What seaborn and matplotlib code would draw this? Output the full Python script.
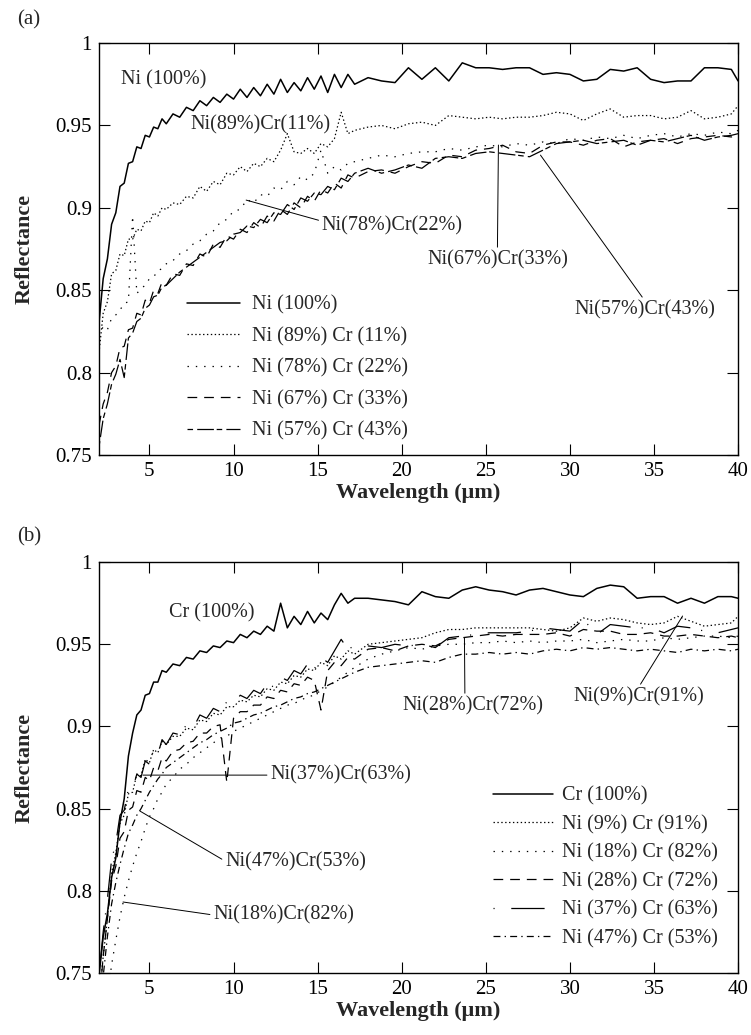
import matplotlib
matplotlib.use("Agg")
import matplotlib.pyplot as plt
import seaborn as sns

# ---------------- data ----------------
wavelength = [
    2.0, 2.25, 2.5, 2.75, 3.0, 3.25, 3.5, 3.75, 4.0, 4.25, 4.5, 4.75, 5.0, 5.25, 5.5, 5.75, 6.0,
    6.4, 6.8, 7.2, 7.6, 8.0, 8.4, 8.8, 9.2, 9.6, 10.0, 10.4, 10.8, 11.2, 11.6, 12.0, 12.4, 12.8, 13.2,
    13.6, 14.0, 14.4, 14.8, 15.2, 15.6, 16.0, 16.4, 16.8, 17.2,
    18.0, 18.8, 19.6, 20.4, 21.2, 22.0, 22.8, 23.6, 24.4, 25.2, 26.0, 26.8, 27.6, 28.4, 29.2, 30.0,
    30.8, 31.6, 32.4, 33.2, 34.0, 34.8, 35.6, 36.4, 37.2, 38.0, 38.8, 39.6, 40.0,
]

# panel (a)
ni100 = [
    0.830, 0.857, 0.869, 0.890, 0.897, 0.913, 0.915, 0.927, 0.928, 0.937, 0.936, 0.944, 0.943, 0.949, 0.948, 0.954, 0.951,
    0.957, 0.955, 0.961, 0.959, 0.965, 0.962, 0.967, 0.964, 0.969, 0.966, 0.972, 0.967, 0.973, 0.968, 0.975, 0.969, 0.978, 0.970,
    0.976, 0.971, 0.979, 0.972, 0.980, 0.970, 0.981, 0.973, 0.981, 0.975,
    0.979, 0.977, 0.976, 0.985, 0.978, 0.985, 0.977, 0.988, 0.985, 0.985, 0.984, 0.985, 0.985, 0.981, 0.982, 0.981,
    0.977, 0.978, 0.984, 0.983, 0.985, 0.978, 0.976, 0.977, 0.977, 0.985, 0.985, 0.984, 0.977,
]
ni89_cr11 = [
    0.812, 0.836, 0.843, 0.860, 0.862, 0.872, 0.871, 0.881, 0.881, 0.887, 0.886, 0.892, 0.891, 0.897, 0.895, 0.900, 0.899,
    0.903, 0.902, 0.907, 0.906, 0.913, 0.910, 0.916, 0.914, 0.921, 0.920, 0.925, 0.922, 0.927, 0.925, 0.930, 0.928, 0.935, 0.945,
    0.934, 0.933, 0.936, 0.933, 0.939, 0.937, 0.942, 0.958, 0.945, 0.947,
    0.949, 0.950, 0.948, 0.951, 0.952, 0.950, 0.956, 0.955, 0.954, 0.955, 0.954, 0.955, 0.955, 0.956, 0.958, 0.957,
    0.953, 0.957, 0.960, 0.955, 0.956, 0.956, 0.954, 0.955, 0.959, 0.954, 0.955, 0.957, 0.962,
]
ni78_cr22 = [
    0.822, 0.828, 0.826, 0.833, 0.835, 0.838, 0.842, 0.843, 0.895, 0.848, 0.851, 0.853, 0.857, 0.858, 0.862, 0.863, 0.866,
    0.868, 0.872, 0.874, 0.878, 0.880, 0.884, 0.886, 0.891, 0.893, 0.898, 0.899, 0.905, 0.903, 0.908, 0.907, 0.912, 0.911, 0.916,
    0.914, 0.919, 0.917, 0.921, 0.935, 0.921, 0.925, 0.923, 0.927, 0.928,
    0.930, 0.932, 0.931, 0.933, 0.934, 0.934, 0.936, 0.935, 0.937, 0.938, 0.937, 0.939, 0.938, 0.940, 0.939, 0.942,
    0.941, 0.943, 0.942, 0.944, 0.942, 0.944, 0.945, 0.943, 0.945, 0.944, 0.946, 0.945, 0.947,
]
ni67_cr33 = [
    0.768, 0.781, 0.788, 0.800, 0.804, 0.815, 0.816, 0.826, 0.827, 0.836, 0.835, 0.844, 0.842, 0.850, 0.848, 0.855, 0.853,
    0.860, 0.859, 0.866, 0.865, 0.872, 0.870, 0.878, 0.876, 0.883, 0.881, 0.887, 0.885, 0.891, 0.888, 0.895, 0.892, 0.899, 0.896,
    0.903, 0.900, 0.907, 0.904, 0.911, 0.909, 0.915, 0.912, 0.920, 0.918,
    0.922, 0.923, 0.921, 0.925, 0.928, 0.927, 0.932, 0.931, 0.935, 0.936, 0.938, 0.934, 0.933, 0.938, 0.940, 0.940,
    0.938, 0.941, 0.942, 0.937, 0.940, 0.941, 0.942, 0.939, 0.942, 0.943, 0.944, 0.943, 0.945,
]
ni57_cr43 = [
    0.755, 0.772, 0.781, 0.793, 0.799, 0.808, 0.797, 0.821, 0.824, 0.831, 0.833, 0.839, 0.841, 0.846, 0.847, 0.852, 0.853,
    0.857, 0.861, 0.864, 0.867, 0.870, 0.873, 0.876, 0.879, 0.880, 0.884, 0.885, 0.889, 0.888, 0.893, 0.891, 0.897, 0.896, 0.902,
    0.899, 0.906, 0.904, 0.909, 0.908, 0.913, 0.911, 0.918, 0.916, 0.921,
    0.924, 0.921, 0.923, 0.926, 0.924, 0.930, 0.931, 0.930, 0.933, 0.934, 0.933, 0.932, 0.931, 0.935, 0.939, 0.940,
    0.941, 0.939, 0.940, 0.941, 0.938, 0.941, 0.940, 0.942, 0.944, 0.941, 0.943, 0.944, 0.945,
]

# panel (b)
cr100 = [
    0.748, 0.772, 0.786, 0.808, 0.820, 0.842, 0.856, 0.882, 0.896, 0.907, 0.910, 0.919, 0.920, 0.927, 0.927, 0.934, 0.933,
    0.938, 0.937, 0.942, 0.941, 0.946, 0.945, 0.949, 0.948, 0.952, 0.951, 0.956, 0.954, 0.958, 0.956, 0.961, 0.958, 0.975, 0.960,
    0.967, 0.962, 0.970, 0.963, 0.969, 0.965, 0.974, 0.981, 0.975, 0.978,
    0.978, 0.977, 0.976, 0.974, 0.982, 0.979, 0.978, 0.983, 0.985, 0.983, 0.982, 0.980, 0.983, 0.984, 0.982, 0.980,
    0.979, 0.984, 0.986, 0.985, 0.978, 0.979, 0.979, 0.975, 0.978, 0.975, 0.979, 0.979, 0.978,
]
ni9_cr91 = [
    0.735, 0.760, 0.783, 0.811, 0.823, 0.841, 0.846, 0.859, 0.860, 0.871, 0.870, 0.880, 0.878, 0.886, 0.884, 0.891, 0.889,
    0.894, 0.894, 0.899, 0.898, 0.904, 0.903, 0.908, 0.907, 0.912, 0.912, 0.916, 0.915, 0.919, 0.918, 0.923, 0.922, 0.927, 0.926,
    0.931, 0.930, 0.935, 0.934, 0.939, 0.937, 0.943, 0.941, 0.946, 0.944,
    0.950, 0.951, 0.952, 0.953, 0.954, 0.957, 0.959, 0.959, 0.960, 0.960, 0.960, 0.960, 0.960, 0.959, 0.958, 0.960,
    0.966, 0.964, 0.966, 0.965, 0.963, 0.962, 0.963, 0.967, 0.964, 0.961, 0.962, 0.963, 0.967,
]
ni18_cr82 = [
    0.700, 0.715, 0.735, 0.755, 0.770, 0.784, 0.796, 0.806, 0.815, 0.823, 0.830, 0.838, 0.845, 0.850, 0.856, 0.860, 0.865,
    0.869, 0.874, 0.877, 0.881, 0.884, 0.887, 0.890, 0.893, 0.894, 0.897, 0.899, 0.901, 0.903, 0.905, 0.907, 0.909, 0.911, 0.913,
    0.914, 0.916, 0.918, 0.919, 0.922, 0.924, 0.927, 0.930, 0.933, 0.936,
    0.941, 0.944, 0.946, 0.948, 0.947, 0.949, 0.950, 0.950, 0.951, 0.951, 0.952, 0.951, 0.952, 0.951, 0.952, 0.952,
    0.953, 0.951, 0.952, 0.953, 0.952, 0.952, 0.954, 0.953, 0.954, 0.955, 0.955, 0.954, 0.955,
]
ni28_cr72 = [
    0.730, 0.760, 0.783, 0.806, 0.815, 0.832, 0.836, 0.849, 0.851, 0.861, 0.860, 0.869, 0.867, 0.875, 0.873, 0.881, 0.879,
    0.885, 0.886, 0.890, 0.891, 0.896, 0.896, 0.900, 0.901, 0.866, 0.905, 0.909, 0.909, 0.913, 0.913, 0.918, 0.917, 0.922, 0.921,
    0.926, 0.925, 0.930, 0.928, 0.910, 0.934, 0.939, 0.937, 0.942, 0.941,
    0.947, 0.948, 0.946, 0.949, 0.950, 0.949, 0.953, 0.954, 0.955, 0.956, 0.955, 0.956, 0.956, 0.956, 0.957, 0.955,
    0.959, 0.958, 0.958, 0.956, 0.956, 0.957, 0.955, 0.955, 0.956, 0.955, 0.954, 0.955, 0.954,
]
ni37_cr63 = [
    0.748, 0.775, 0.795, 0.819, 0.829, 0.846, 0.849, 0.862, 0.862, 0.871, 0.869, 0.879, 0.877, 0.886, 0.883, 0.892, 0.889,
    0.896, 0.895, 0.901, 0.899, 0.907, 0.905, 0.911, 0.909, 0.915, 0.914, 0.919, 0.917, 0.922, 0.920, 0.926, 0.924, 0.930, 0.928,
    0.934, 0.932, 0.938, 0.935, 0.942, 0.939, 0.946, 0.953, 0.947, 0.949,
    0.949, 0.948, 0.950, 0.949, 0.950, 0.948, 0.954, 0.955, 0.956, 0.957, 0.957, 0.957, 0.958, 0.960, 0.959, 0.958,
    0.965, 0.956, 0.962, 0.961, 0.960, 0.960, 0.957, 0.961, 0.960, 0.958, 0.957, 0.959, 0.960,
]
ni47_cr53 = [
    0.720, 0.748, 0.772, 0.792, 0.805, 0.816, 0.826, 0.835, 0.840, 0.846, 0.850, 0.855, 0.860, 0.864, 0.868, 0.871, 0.875,
    0.878, 0.881, 0.884, 0.887, 0.890, 0.892, 0.895, 0.897, 0.899, 0.902, 0.903, 0.905, 0.907, 0.908, 0.910, 0.912, 0.913, 0.915,
    0.917, 0.918, 0.920, 0.921, 0.923, 0.925, 0.927, 0.929, 0.931, 0.933,
    0.936, 0.937, 0.938, 0.939, 0.940, 0.939, 0.942, 0.944, 0.944, 0.945, 0.944, 0.945, 0.944, 0.946, 0.947, 0.946,
    0.948, 0.947, 0.948, 0.947, 0.946, 0.947, 0.946, 0.945, 0.947, 0.946, 0.947, 0.946, 0.947,
]

labels_a = ["Ni (100%)", "Ni (89%) Cr (11%)", "Ni (78%) Cr (22%)", "Ni (67%) Cr (33%)", "Ni (57%) Cr (43%)"]
labels_b = ["Cr (100%)", "Ni (9%) Cr (91%)", "Ni (18%) Cr (82%)", "Ni (28%) Cr (72%)",
            "Ni (37%) Cr (63%)", "Ni (47%) Cr (53%)"]
x_ticks = [5, 10, 15, 20, 25, 30, 35, 40]
y_ticks = [0.75, 0.8, 0.85, 0.9, 0.95, 1.0]
y_tick_labels = ["0.75", "0.8", "0.85", "0.9", "0.95", "1"]

# ---------------- styling ----------------
sns.set_style("ticks")
plt.rcParams.update({
    "font.family": ["Liberation Serif", "DejaVu Serif"],
    "font.size": 15,
    "xtick.direction": "in", "ytick.direction": "in",
    "xtick.top": True, "ytick.right": True,
    "xtick.major.size": 8, "ytick.major.size": 8,
    "xtick.major.width": 0.8, "ytick.major.width": 0.8,
    "xtick.major.pad": 5, "ytick.major.pad": 5,
    "axes.linewidth": 1.0, "axes.edgecolor": "black",
    "xtick.color": "black", "ytick.color": "black",
    "lines.scale_dashes": False,
})

SOLID = "-"
FINE_DOT = (0, (1, 1.8))
SPARSE_DOT = (0, (1, 5))
LONG_DASH = (0, (7, 5))
DASH_LONG = (0, (4, 3, 12, 2))
DOT_LONGDASH = (0, (0.8, 12, 24, 8))
DASH_DOT = (0, (5, 3, 1, 3))

fig = plt.figure(figsize=(7.51, 10.35), dpi=100)
ax_a = fig.add_axes([0.1318, 0.5604, 0.851, 0.398])
ax_b = fig.add_axes([0.1318, 0.0599, 0.851, 0.397])

series_a = [ni100, ni89_cr11, ni78_cr22, ni67_cr33, ni57_cr43]
styles_a = [SOLID, FINE_DOT, SPARSE_DOT, LONG_DASH, DASH_LONG]
series_b = [cr100, ni9_cr91, ni18_cr82, ni28_cr72, ni37_cr63, ni47_cr53]
styles_b = [SOLID, FINE_DOT, SPARSE_DOT, LONG_DASH, DOT_LONGDASH, DASH_DOT]


def draw(ax, series, styles, labels):
    for y, ls, lab in zip(series, styles, labels):
        lw = 1.1 if ls == SOLID else 0.9
        sns.lineplot(x=wavelength, y=y, ax=ax, color="black", linewidth=lw,
                     linestyle=ls, label=lab, estimator=None, sort=False)
    ax.set_xlim(2, 40)
    ax.set_ylim(0.75, 1.0)
    ax.set_xticks(x_ticks)
    ax.set_xticklabels([str(t) for t in x_ticks], fontsize=15)
    ax.set_yticks(y_ticks)
    ax.set_yticklabels(y_tick_labels, fontsize=15)
    ax.set_xlabel("Wavelength (\u03bcm)", fontsize=16, fontweight="bold")
    ax.set_ylabel("Reflectance", fontsize=16, fontweight="bold")
    ax.xaxis.set_label_coords(0.5, -0.068)
    ax.yaxis.set_label_coords(-0.100, 0.5)
    for s in ax.spines.values():
        s.set_visible(True)


draw(ax_a, series_a, styles_a, labels_a)
draw(ax_b, series_b, styles_b, labels_b)

ax_a.legend(handles=ax_a.get_lines()[:5], labels=labels_a, loc="upper left",
            bbox_to_anchor=(0.1377, 0.387), frameon=False, fontsize=14.5,
            handlelength=2.63, handletextpad=0.6, labelspacing=0.61,
            borderpad=0, borderaxespad=0)
ax_b.legend(handles=ax_b.get_lines()[:6], labels=labels_b, loc="upper left",
            bbox_to_anchor=(0.6166, 0.454), frameon=False, fontsize=14.5,
            handlelength=3.0, handletextpad=0.4, labelspacing=0.46,
            borderpad=0, borderaxespad=0)

arrow = dict(arrowstyle="-", color="black", linewidth=0.7, shrinkA=0, shrinkB=0)
fs = 14.5
# panel (a) annotations
ax_a.text(5.87, 0.9775, "Ni (100%)", ha="center", va="center", fontsize=fs)
ax_a.text(11.58, 0.9502, "Ni(89%)Cr(11%)", ha="center", va="center", fontsize=fs)
ax_a.annotate("Ni(78%)Cr(22%)", xy=(10.75, 0.9047), xytext=(19.44, 0.889),
              ha="center", va="center", fontsize=fs,
              arrowprops=dict(arrow, relpos=(0.0, 0.75)))
ax_a.annotate("Ni(67%)Cr(33%)", xy=(25.75, 0.9381), xytext=(25.69, 0.8683),
              ha="center", va="center", fontsize=fs,
              arrowprops=dict(arrow, relpos=(0.5, 1.0)))
ax_a.annotate("Ni(57%)Cr(43%)", xy=(28.25, 0.932), xytext=(34.44, 0.838),
              ha="center", va="center", fontsize=fs,
              arrowprops=dict(arrow, relpos=(0.5, 1.0)))
# panel (b) annotations
ax_b.text(8.73, 0.969, "Cr (100%)", ha="center", va="center", fontsize=fs)
ax_b.annotate("Ni(28%)Cr(72%)", xy=(23.73, 0.9538), xytext=(24.26, 0.9124),
              ha="center", va="center", fontsize=fs,
              arrowprops=dict(arrow, relpos=(0.44, 1.0)))
ax_b.annotate("Ni(9%)Cr(91%)", xy=(36.70, 0.9672), xytext=(34.08, 0.9179),
              ha="center", va="center", fontsize=fs,
              arrowprops=dict(arrow, relpos=(0.5, 1.0)))
ax_b.annotate("Ni(37%)Cr(63%)", xy=(4.62, 0.8704), xytext=(12.18, 0.8704),
              ha="left", va="center", fontsize=fs,
              arrowprops=dict(arrow, relpos=(0.0, 0.5)))
ax_b.annotate("Ni(47%)Cr(53%)", xy=(4.44, 0.8485), xytext=(9.5, 0.8175),
              ha="left", va="center", fontsize=fs,
              arrowprops=dict(arrow, relpos=(0.0, 0.55)))
ax_b.annotate("Ni(18%)Cr(82%)", xy=(3.43, 0.7932), xytext=(8.79, 0.7853),
              ha="left", va="center", fontsize=fs,
              arrowprops=dict(arrow, relpos=(0.0, 0.5)))

fig.text(17 / 751, 1 - 20 / 1035, "(a)", ha="left", va="center", fontsize=15)
fig.text(17 / 751, 1 - 537 / 1035, "(b)", ha="left", va="center", fontsize=15)

fig.savefig("out.png", dpi=100, facecolor="white")
